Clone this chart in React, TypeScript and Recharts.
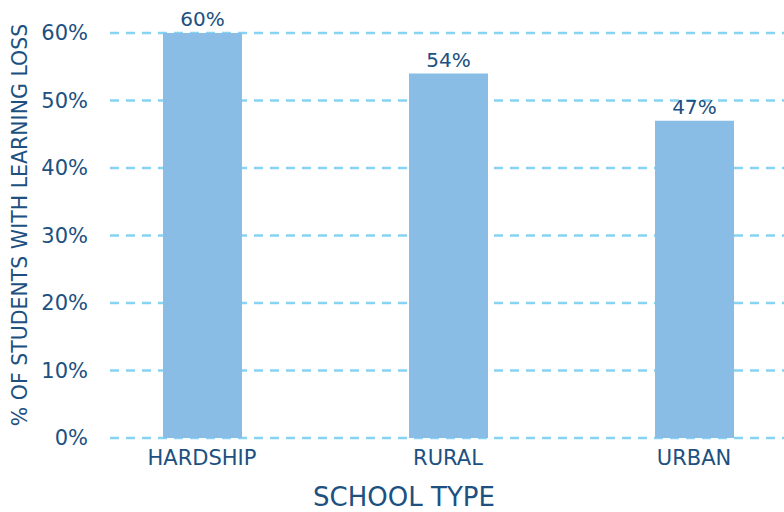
import React from "react";
import {
  BarChart,
  Bar,
  XAxis,
  YAxis,
  CartesianGrid,
  LabelList,
  Label,
} from "recharts";

const schoolTypes = ["HARDSHIP", "RURAL", "URBAN"];
const learningLoss = [60, 54, 47];
const yTicks = [0, 10, 20, 30, 40, 50, 60];

const data = schoolTypes.map((t, i) => ({ type: t, loss: learningLoss[i] }));

const textColor = "#20507f";
const font = "'DejaVu Sans', sans-serif";

const YTitle = () => (
  <text
    x={20}
    y={225}
    transform="rotate(-90, 20, 225)"
    textAnchor="middle"
    dominantBaseline="central"
    fill={textColor}
    fontSize={20.5}
    fontFamily={font}
  >
    % OF STUDENTS WITH LEARNING LOSS
  </text>
);

const XTitle = () => (
  <text
    x={404}
    y={497}
    textAnchor="middle"
    dominantBaseline="central"
    fill={textColor}
    fontSize={26}
    fontFamily={font}
  >
    SCHOOL TYPE
  </text>
);

export default function App() {
  return (
    <div style={{ position: "absolute", left: 0, top: 0 }}>
      <BarChart
        width={784}
        height={512}
        data={data}
        margin={{ top: 33, right: 0, bottom: 44, left: 0 }}
      >
        <CartesianGrid
          vertical={false}
          stroke="#86d3f3"
          strokeWidth={2.5}
          strokeDasharray="9 7"
        />
        <XAxis
          dataKey="type"
          scale="point"
          padding={{ left: 92, right: 90 }}
          axisLine={false}
          tickLine={false}
          tickSize={0}
          tickMargin={12}
          tick={{ fill: textColor, fontSize: 21, fontFamily: font }}
        >
          <Label content={<XTitle />} />
        </XAxis>
        <YAxis
          width={110}
          domain={[0, 60]}
          ticks={yTicks}
          tickFormatter={(v) => `${v}%`}
          axisLine={false}
          tickLine={false}
          tickSize={0}
          tickMargin={22}
          tick={{ fill: textColor, fontSize: 21, fontFamily: font }}
        >
          <Label content={<YTitle />} />
        </YAxis>
        <Bar dataKey="loss" fill="#89bde6" barSize={79} isAnimationActive={false}>
          <LabelList
            dataKey="loss"
            position="top"
            offset={7}
            formatter={(v: any) => `${v}%`}
            fill={textColor}
            fontSize={20}
            fontFamily={font}
          />
        </Bar>
      </BarChart>
    </div>
  );
}
